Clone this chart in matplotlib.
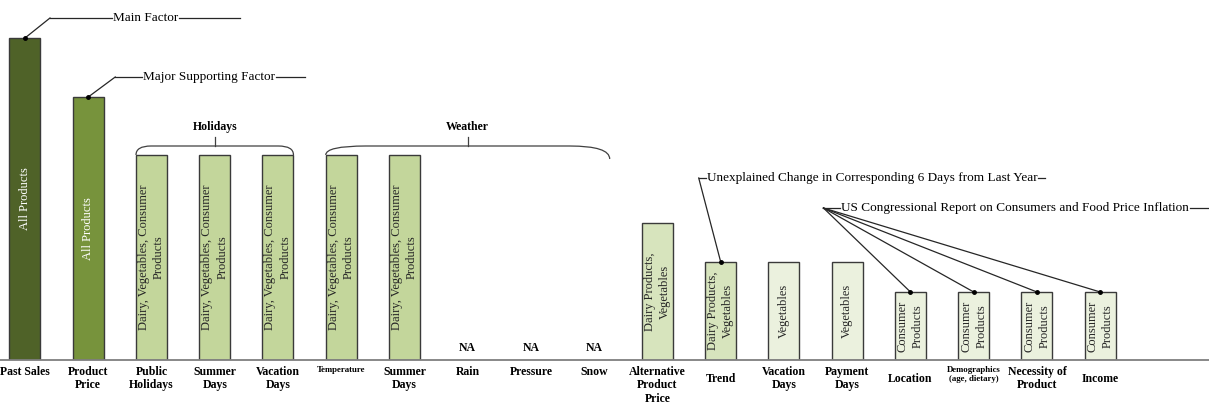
import matplotlib.pyplot as plt
import numpy as np
from matplotlib.path import Path
from matplotlib.patches import PathPatch

plt.rcParams['font.family'] = ['Liberation Serif', 'DejaVu Serif']

# Factors along the axis (tick labels)
factors = ['Past Sales', 'Product\nPrice', 'Public\nHolidays', 'Summer\nDays', 'Vacation\nDays',
           'Temperature', 'Summer\nDays', 'Rain', 'Pressure', 'Snow',
           'Alternative\nProduct\nPrice', 'Trend', 'Vacation\nDays', 'Payment\nDays',
           'Location', 'Demographics\n(age, dietary)', 'Necessity of\nProduct', 'Income']

# relative importance (bar height)
importance = [322, 263, 205, 205, 205, 205, 205, 0, 0, 0, 137, 98, 98, 98, 68, 68, 68, 68]

# products affected (text inside the bars)
products = ['All Products', 'All Products',
            'Dairy, Vegetables, Consumer\nProducts', 'Dairy, Vegetables, Consumer\nProducts',
            'Dairy, Vegetables, Consumer\nProducts', 'Dairy, Vegetables, Consumer\nProducts',
            'Dairy, Vegetables, Consumer\nProducts', 'NA', 'NA', 'NA',
            'Dairy Products,\nVegetables', 'Dairy Products,\nVegetables', 'Vegetables', 'Vegetables',
            'Consumer\nProducts', 'Consumer\nProducts', 'Consumer\nProducts', 'Consumer\nProducts']

tier = [0, 1, 2, 2, 2, 2, 2, 2, 2, 2, 3, 3, 4, 4, 4, 4, 4, 4]
tier_colors = ['#4f6228', '#77933c', '#c3d69b', '#d7e4bd', '#ebf1de']

fig = plt.figure(figsize=(12.09, 4.03), dpi=100)
ax = fig.add_axes([0, 43 / 403, 1, 360 / 403])
x = np.arange(len(factors))
w = 0.49
ax.set_xlim(-0.395, 18.72)
ax.set_ylim(0, 360)

for i in x:
    if importance[i] == 0:
        ax.text(i, 6, products[i], ha='center', va='bottom', fontsize=8.5, fontweight='bold')
        continue
    ax.bar(i, importance[i], width=w, color=tier_colors[tier[i]], edgecolor='#3a3a3a', linewidth=1)
    ax.text(i, importance[i] / 2, products[i], rotation=90, ha='center', va='center',
            fontsize=9, linespacing=1.35, color='white' if tier[i] < 2 else '#262626')

ax.set_xticks(x)
ax.set_xticklabels(factors, fontsize=8.5, fontweight='bold', va='top')
ax.tick_params(length=0, pad=4)
for lab in ax.get_xticklabels():
    if lab.get_text() in ('Temperature', 'Demographics\n(age, dietary)'):
        lab.set_fontsize(6.3)
    if lab.get_text() in ('Trend', 'Location', 'Income'):
        lab.set_y(-0.02)
ax.set_yticks([])
for s in ['top', 'left', 'right']:
    ax.spines[s].set_visible(False)
ax.spines['bottom'].set_color('#7f7f7f')
ax.spines['bottom'].set_linewidth(1.3)

# overlay in pixel units for callouts and brackets
ov = fig.add_axes([0, 0, 1, 1], zorder=3)
ov.set_xlim(0, 1209)
ov.set_ylim(403, 0)
ov.axis('off')
ov.patch.set_alpha(0)
renderer = fig.canvas.get_renderer()


def to_px(xv, yv):
    return ov.transData.inverted().transform(ax.transData.transform((xv, yv)))


def add_label(kx, ky, label, gap, tail):
    ov.plot([kx, kx + gap], [ky, ky], color='#262626', lw=0.9)
    t = ov.text(kx + gap + 1, ky, label, ha='left', va='center', fontsize=9.5)
    bb = t.get_window_extent(renderer)
    x1 = ov.transData.inverted().transform((bb.x1, bb.y0))[0]
    ov.plot([x1 + 1, x1 + tail], [ky, ky], color='#262626', lw=0.9)


def callout(i, label, rise, run, gap, tail):
    bx, by = to_px(i, importance[i])
    kx, ky = bx + run, by - rise
    ov.plot([bx, kx], [by, ky], color='#262626', lw=0.9)
    ov.plot(bx, by, 'o', ms=2.5, color='black')
    add_label(kx, ky, label, gap, tail)


callout(0, 'Main Factor', 20, 25, 62, 62)
callout(1, 'Major Supporting Factor', 20, 27, 27, 30)
callout(11, 'Unexplained Change in Corresponding 6 Days from Last Year', 84, -22, 7, 8)

# one callout shared by the four consumer bars
ox, oy = to_px(14, importance[14])
ox, oy = ox - 87, oy - 84
for i in range(14, 18):
    bx, by = to_px(i, importance[i])
    ov.plot([ox, bx], [oy, by], color='#262626', lw=0.9)
    ov.plot(bx, by, 'o', ms=2.5, color='black')
add_label(ox, oy, 'US Congressional Report on Consumers and Food Price Inflation', 17, 32)


def bracket(i0, i1, label, r, drop_right):
    xl, yend = to_px(i0 - w / 2, importance[i0])
    xr, _ = to_px(i1 + w / 2, importance[i0])
    yb = yend - 9
    verts = [(xl, yend), (xl, yb), (xl + r, yb), (xr - r, yb), (xr, yb), (xr, yend + drop_right)]
    codes = [Path.MOVETO, Path.CURVE3, Path.CURVE3, Path.LINETO, Path.CURVE3, Path.CURVE3]
    ov.add_patch(PathPatch(Path(verts, codes), fill=False, edgecolor='#404040', lw=0.9))
    xc = (xl + xr) / 2
    ov.plot([xc, xc], [yb, yb - 9], color='#404040', lw=0.9)
    ov.text(xc, yb - 19, label, ha='center', va='center', fontsize=8.5, fontweight='bold')


bracket(2, 4, 'Holidays', 15, 0)
bracket(5, 9, 'Weather', 40, 4)

fig.savefig('out.png', dpi=100)
